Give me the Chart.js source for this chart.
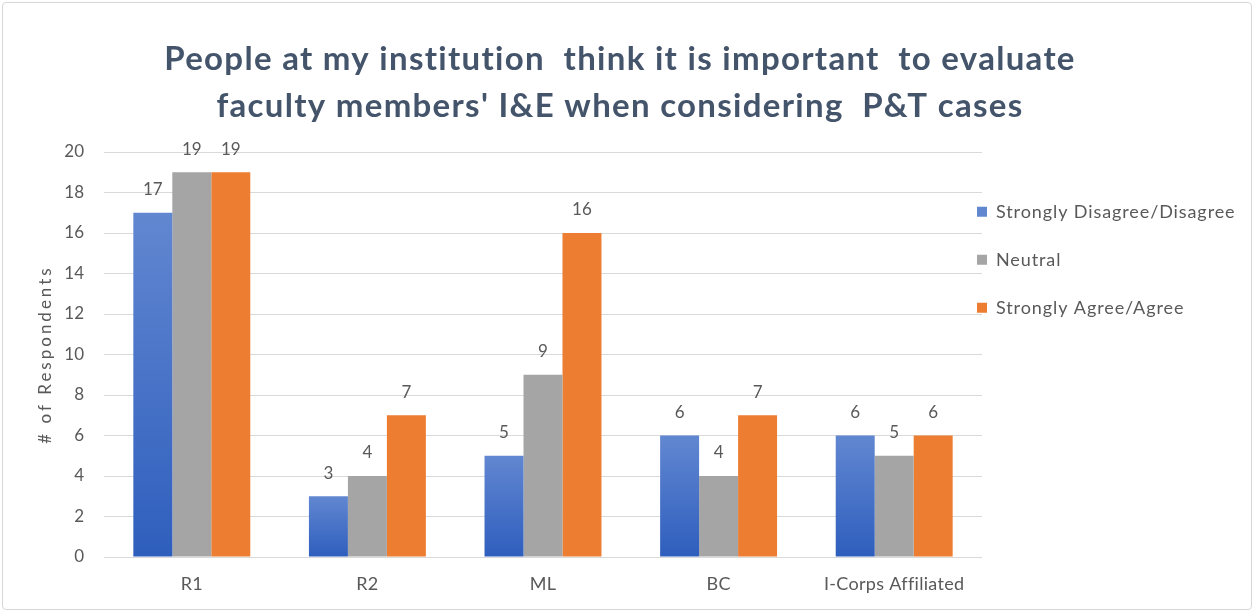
<!DOCTYPE html>
<html>
<head>
<meta charset="utf-8">
<script src="https://cdn.jsdelivr.net/npm/chart.js@4/dist/chart.umd.min.js"></script>
<style>
  html, body { margin: 0; padding: 0; background: #ffffff; }
  #wrap { position: relative; width: 1254px; height: 613px; }
  #frame { position: absolute; left: 2px; top: 2px; width: 1248px; height: 606px; border: 1px solid #d6d6d6; border-radius: 4px; pointer-events: none; }
  canvas { display: block; }
</style>
</head>
<body>
<div id="wrap">
  <canvas id="c" width="1254" height="613"></canvas>
  <div id="frame"></div>
</div>
<script>
const categories = ['R1', 'R2', 'ML', 'BC', 'I-Corps Affiliated'];
const seriesNames = ['Strongly Disagree/Disagree', 'Neutral', 'Strongly Agree/Agree'];
const disagreeValues = [17, 3, 5, 6, 6];
const neutralValues = [19, 4, 9, 4, 5];
const agreeValues = [19, 7, 16, 7, 6];
const yTicks = [0, 2, 4, 6, 8, 10, 12, 14, 16, 18, 20];
const titleLines = ["People at my institution  think it is important  to evaluate", "faculty members' I&E when considering  P&T cases"];
const yAxisTitle = '# of Respondents';

const FONT = 'Lato, "Open Sans", sans-serif';
const TXT = '#595959';

function blueGradient(ctx) {
  const chart = ctx.chart;
  if (!chart.chartArea || ctx.type !== 'data') return '#4472C4';
  const ys = chart.scales.y;
  const top = ys.getPixelForValue(ctx.raw);
  const bot = ys.getPixelForValue(0);
  if (!isFinite(top) || !isFinite(bot) || top === bot) return '#4472C4';
  const g = chart.ctx.createLinearGradient(0, top, 0, bot);
  g.addColorStop(0, '#6287D1');
  g.addColorStop(1, '#2E5EBD');
  return g;
}

const dataLabels = {
  id: 'dataLabels',
  afterDatasetsDraw(chart) {
    const ctx = chart.ctx;
    ctx.save();
    ctx.font = '17px ' + FONT;
    ctx.fillStyle = TXT;
    ctx.textAlign = 'center';
    ctx.textBaseline = 'middle';
    chart.data.datasets.forEach((ds, di) => {
      const meta = chart.getDatasetMeta(di);
      meta.data.forEach((el, i) => {
        ctx.fillText(String(ds.data[i]), el.x, el.y - 23);
      });
    });
    ctx.restore();
  }
};

function spaced(obj, method, spacing) {
  if (!obj || obj['__sp_' + method]) return;
  const orig = obj[method];
  obj[method] = function () {
    const c = this.ctx || obj.chart.ctx;
    const prev = c.letterSpacing;
    c.letterSpacing = spacing;
    const r = orig.apply(this, arguments);
    c.letterSpacing = prev || '0px';
    return r;
  };
  obj['__sp_' + method] = true;
}

const placeBlocks = {
  id: 'placeBlocks',
  afterLayout(chart) {
    const lg = chart.legend;
    if (lg) {
      lg.left = chart.chartArea.right - 35;
      lg.right = 1254;
      lg.top = 172.7;
      lg.bottom = 613;
      spaced(lg, 'draw', '0.9px');
    }
    const tb = chart.titleBlock;
    if (tb) {
      const w = tb.right - tb.left;
      tb.left = 620 - w / 2; tb.right = 620 + w / 2;
      spaced(tb, 'draw', '1.3px');
    }
    spaced(chart.scales.x, 'drawLabels', '0.3px');
    spaced(chart.scales.y, 'drawTitle', '3px');
  }
};

new Chart(document.getElementById('c'), {
  type: 'bar',
  data: {
    labels: categories,
    datasets: [
      { label: seriesNames[0], data: disagreeValues, backgroundColor: blueGradient },
      { label: seriesNames[1], data: neutralValues, backgroundColor: '#A5A5A5' },
      { label: seriesNames[2], data: agreeValues, backgroundColor: '#ED7D31' }
    ]
  },
  options: {
    responsive: false,
    animation: false,
    devicePixelRatio: 1,
    layout: { padding: { left: 20, right: 72, top: 0, bottom: 10 } },
    datasets: { bar: { categoryPercentage: 0.666, barPercentage: 1.0, borderWidth: 0 } },
    scales: {
      x: {
        grid: { display: false, drawTicks: false },
        border: { display: false },
        ticks: { color: TXT, font: { family: FONT, size: 18 }, padding: 16, maxRotation: 0, autoSkip: false },
        afterFit(s) { s.height = 46; }
      },
      y: {
        min: 0, max: 20,
        afterBuildTicks(s) { s.ticks = yTicks.map(v => ({ value: v })); },
        grid: { color: '#D9D9D9', lineWidth: 1, drawTicks: false },
        border: { display: false },
        ticks: { color: TXT, font: { family: FONT, size: 17 }, padding: 20 },
        title: { display: true, text: yAxisTitle, color: TXT, font: { family: FONT, size: 17 }, padding: { top: 15, bottom: 0 } },
        afterFit(s) { s.width = 84; }
      }
    },
    plugins: {
      title: {
        display: true,
        text: titleLines,
        color: '#44546A',
        font: { family: FONT, size: 33, weight: 'bold', lineHeight: '47px' },
        padding: { top: 36, bottom: 22 }
      },
      legend: {
        position: 'right',
        align: 'start',
        maxWidth: 200,
        labels: { color: TXT, font: { family: FONT, size: 18 }, boxWidth: 10, boxHeight: 10, padding: 30 }
      },
      tooltip: { enabled: false }
    }
  },
  plugins: [dataLabels, placeBlocks]
});
</script>
</body>
</html>
